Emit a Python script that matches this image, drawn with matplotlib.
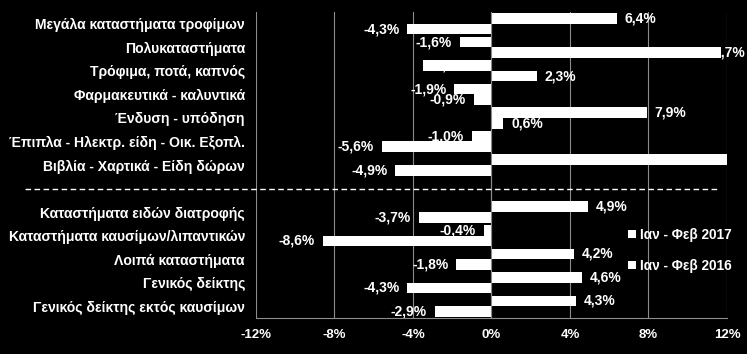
import numpy as np
import matplotlib
matplotlib.use('Agg')
import matplotlib.pyplot as plt

# κατηγορίες (το κενό string είναι η διαχωριστική γραμμή)
categories = ['Μεγάλα καταστήματα τροφίμων', 'Πολυκαταστήματα', 'Τρόφιμα, ποτά, καπνός',
              'Φαρμακευτικά - καλυντικά', 'Ένδυση - υπόδηση',
              'Έπιπλα - Ηλεκτρ. είδη - Οικ. Εξοπλ.', 'Βιβλία - Χαρτικά - Είδη δώρων', '',
              'Καταστήματα ειδών διατροφής', 'Καταστήματα καυσίμων/λιπαντικών',
              'Λοιπά καταστήματα', 'Γενικός δείκτης', 'Γενικός δείκτης εκτός καυσίμων']
vals_2017 = [6.4, -1.6, -3.5, -1.9, 7.9, -1.0, 13.5, np.nan, 4.9, -0.4, 4.2, 4.6, 4.3]
vals_2016 = [-4.3, 11.7, 2.3, -0.9, 0.6, -5.6, -4.9, np.nan, -3.7, -8.6, -1.8, -4.3, -2.9]
series_names = ['Ιαν - Φεβ 2017', 'Ιαν - Φεβ 2016']
xticks = [-12, -8, -4, 0, 4, 8, 12]

plt.rcParams['font.family'] = ['Liberation Sans', 'DejaVu Sans']
plt.rcParams['font.weight'] = 'bold'

fig = plt.figure(figsize=(7.47, 3.54), dpi=100, facecolor='black')
ax = fig.add_axes([0.3427, 0.1017, 0.6305, 0.8643], facecolor='black')

y = np.arange(len(categories))
h = 0.45
b17 = ax.barh(y - h / 2, vals_2017, height=h, color='white', zorder=3, label=series_names[0])
b16 = ax.barh(y + h / 2, vals_2016, height=h, color='white', zorder=3, label=series_names[1])

ax.set_xlim(-12, 12)
ax.set_ylim(len(categories) - 0.5, -0.5)

FS_LAB = 10

def fmt(v):
    return ('%.1f%%' % v).replace('.', ',')

def put_label(v, yy, mode='out'):
    if np.isnan(v) or mode == 'none':
        return
    kw = dict(va='center', color='white', fontsize=FS_LAB, fontweight='bold', zorder=2)
    if mode == 'inside':
        ax.text(v * 0.63, yy, fmt(v), ha='center', **kw)
        return
    if v > 11:
        # Excel pushes the label back inside the chart area
        ax.text(12.9, yy, fmt(v), ha='right', clip_on=False, **kw)
        return
    off = 0.4
    if v >= 0:
        ax.text(v + off, yy, fmt(v), ha='left', **kw)
    else:
        ax.text(v - off, yy, fmt(v), ha='right', **kw)

for i in range(len(categories)):
    m17 = 'out'
    if i == 2:
        m17 = 'inside'
    if i == 6:
        m17 = 'none'
    put_label(vals_2017[i], y[i] - h / 2, m17)
    put_label(vals_2016[i], y[i] + h / 2)

ax.set_yticks(y)
ax.set_yticklabels(categories, color='white', fontsize=10.1, fontweight='bold')
ax.tick_params(axis='y', length=0, pad=8)
ax.set_xticks(xticks)
ax.set_xticklabels(['%d%%' % t for t in xticks], color='white', fontsize=9.5, fontweight='bold')
ax.tick_params(axis='x', length=0, pad=8)

ax.grid(axis='x', color='#8c8c8c', linewidth=0.8, zorder=0)
ax.axvline(0, color='#8c8c8c', linewidth=0.8, zorder=4)
for s in ['top', 'right', 'left']:
    ax.spines[s].set_visible(False)
ax.spines['bottom'].set_color('#8c8c8c')
ax.spines['bottom'].set_linewidth(0.8)

# διακεκομμένη γραμμή ανάμεσα στις δύο ομάδες
ax.plot([-0.49, 0.985], [7, 7], transform=ax.get_yaxis_transform(), color='white',
        linestyle=(0, (4, 2.5)), linewidth=1, clip_on=False, zorder=5)

leg = ax.legend(handles=[b17, b16], loc='upper left', bbox_to_anchor=(0.763, 0.335),
                frameon=False, labelcolor='white', handlelength=0.6,
                handleheight=0.6, handletextpad=0.3, labelspacing=1.25,
                prop={'size': 9.8, 'weight': 'bold'})

fig.savefig('out.png', dpi=100, facecolor='black')
